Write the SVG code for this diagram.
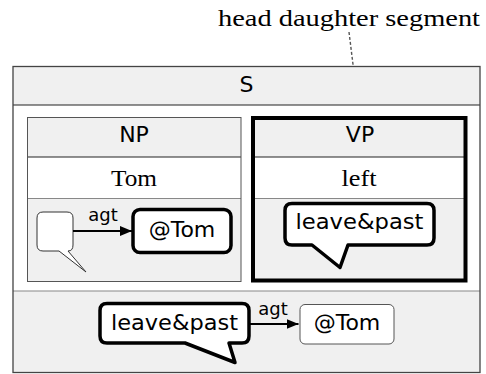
<svg xmlns="http://www.w3.org/2000/svg" width="486" height="374" viewBox="0 0 486 374">
  <style>
    .sans { font-family: "DejaVu Sans", "Liberation Sans", sans-serif; fill: #000; }
    .serif { font-family: "Liberation Serif", "DejaVu Serif", serif; fill: #000; }
    .panel { fill: #f0f0f0; }
    .row { fill: #ffffff; }
    .frame { fill: none; stroke: #444; stroke-width: 1.3; }
    .thin { fill: none; stroke: #555; stroke-width: 1; }
    .divA { stroke: #222; stroke-width: 1; }
    .divB { stroke: #888; stroke-width: 1.2; }
    .bold { fill: #fff; stroke: #000; stroke-width: 3.5; stroke-linejoin: round; }
    .edge { stroke: #000; stroke-width: 2; fill: none; }
  </style>
  <defs>
    <marker id="arrow" viewBox="0 0 12 10" refX="12" refY="5" markerWidth="12" markerHeight="10" markerUnits="userSpaceOnUse" orient="auto">
      <path d="M0,0 L12,5 L0,10 Z" fill="#000"/>
    </marker>
  </defs>

  <!-- callout label -->
  <g id="label-head">
    <text class="serif" x="480" y="26" font-size="24" text-anchor="end" textLength="262" lengthAdjust="spacingAndGlyphs">head daughter segment</text>
    <line x1="349" y1="32" x2="359.5" y2="117" stroke="#555" stroke-width="1.4" stroke-dasharray="3,2"/>
  </g>

  <!-- sentence box -->
  <g id="S">
    <rect class="panel" x="13" y="66.5" width="467" height="38.5"/>
    <rect class="row" x="13" y="105" width="467" height="186"/>
    <rect class="panel" x="13" y="291" width="467" height="81.5"/>
    <line class="divA" x1="13" y1="105" x2="480" y2="105" stroke="#444"/>
    <line class="divB" x1="13" y1="291" x2="480" y2="291"/>
    <rect class="frame" x="13" y="66.5" width="467" height="306"/>
    <text class="sans" x="246.5" y="91.5" font-size="22" text-anchor="middle">S</text>
  </g>

  <!-- noun phrase -->
  <g id="NP">
    <rect class="panel" x="27.5" y="117.5" width="213.5" height="39.5"/>
    <rect class="row" x="27.5" y="157" width="213.5" height="41.5"/>
    <rect class="panel" x="27.5" y="198.5" width="213.5" height="83"/>
    <line class="divA" x1="27.5" y1="157" x2="241" y2="157"/>
    <line class="divB" x1="27.5" y1="198.5" x2="241" y2="198.5"/>
    <rect class="thin" x="27.5" y="117.5" width="213.5" height="164" stroke="#444"/>
    <text class="sans" x="134" y="141.5" font-size="22" text-anchor="middle">NP</text>
    <text class="serif" x="134" y="186" font-size="24" text-anchor="middle" textLength="46" lengthAdjust="spacingAndGlyphs">Tom</text>
  </g>

  <g id="NP-bubble">
    <path d="M43,212 H67 Q73,212 73,218 V245 Q73,251 68,251 L86,272 L59,251 H43 Q37,251 37,245 V218 Q37,212 43,212 Z" fill="#fff" stroke="#333" stroke-width="1"/>
  </g>

  <g id="NP-tom">
    <rect class="bold" x="133" y="209.5" width="98" height="43" rx="7"/>
    <text class="sans" x="182" y="237" font-size="22" text-anchor="middle">@Tom</text>
  </g>

  <!-- verb phrase -->
  <g id="VP">
    <rect class="panel" x="253" y="118" width="212.5" height="39"/>
    <rect class="row" x="253" y="157" width="212.5" height="41.5"/>
    <rect class="panel" x="253" y="198.5" width="212.5" height="82"/>
    <line class="divA" x1="253" y1="157" x2="465.5" y2="157"/>
    <line class="divB" x1="253" y1="198.5" x2="465.5" y2="198.5"/>
    <rect x="253" y="118" width="212.5" height="162.5" fill="none" stroke="#000" stroke-width="4"/>
    <text class="sans" x="360" y="142" font-size="22" text-anchor="middle">VP</text>
    <text class="serif" x="359" y="186" font-size="24" text-anchor="middle" textLength="35" lengthAdjust="spacingAndGlyphs">left</text>
  </g>

  <g id="VP-bubble">
    <path class="bold" d="M292,203.5 H427 Q434,203.5 434,210.5 V238 Q434,245 427,245 H348 L340,267.5 L312,245 H292 Q285,245 285,238 V210.5 Q285,203.5 292,203.5 Z"/>
    <text class="sans" x="359.5" y="229" font-size="22" text-anchor="middle" textLength="128" lengthAdjust="spacingAndGlyphs">leave&amp;past</text>
  </g>

  <!-- combined result -->
  <g id="S-bubble">
    <path class="bold" d="M107,303.5 H242 Q249,303.5 249,310.5 V336 Q249,343 242,343 H229 L235,362.5 L185,343 H107 Q100,343 100,336 V310.5 Q100,303.5 107,303.5 Z"/>
    <text class="sans" x="174.5" y="330" font-size="22" text-anchor="middle" textLength="127" lengthAdjust="spacingAndGlyphs">leave&amp;past</text>
  </g>

  <g id="S-tom">
    <rect x="300" y="304.5" width="94" height="39.5" rx="5" fill="#fff" stroke="#555" stroke-width="1"/>
    <text class="sans" x="347" y="330" font-size="22" text-anchor="middle">@Tom</text>
  </g>

  <!-- relations -->
  <g id="connectors">
    <line class="edge" x1="73" y1="231" x2="132" y2="231" marker-end="url(#arrow)"/>
    <text class="sans" x="103" y="221" font-size="18" text-anchor="middle">agt</text>
    <line class="edge" x1="249" y1="324" x2="298.5" y2="324" marker-end="url(#arrow)"/>
    <text class="sans" x="273" y="315" font-size="18" text-anchor="middle">agt</text>
  </g>
</svg>
